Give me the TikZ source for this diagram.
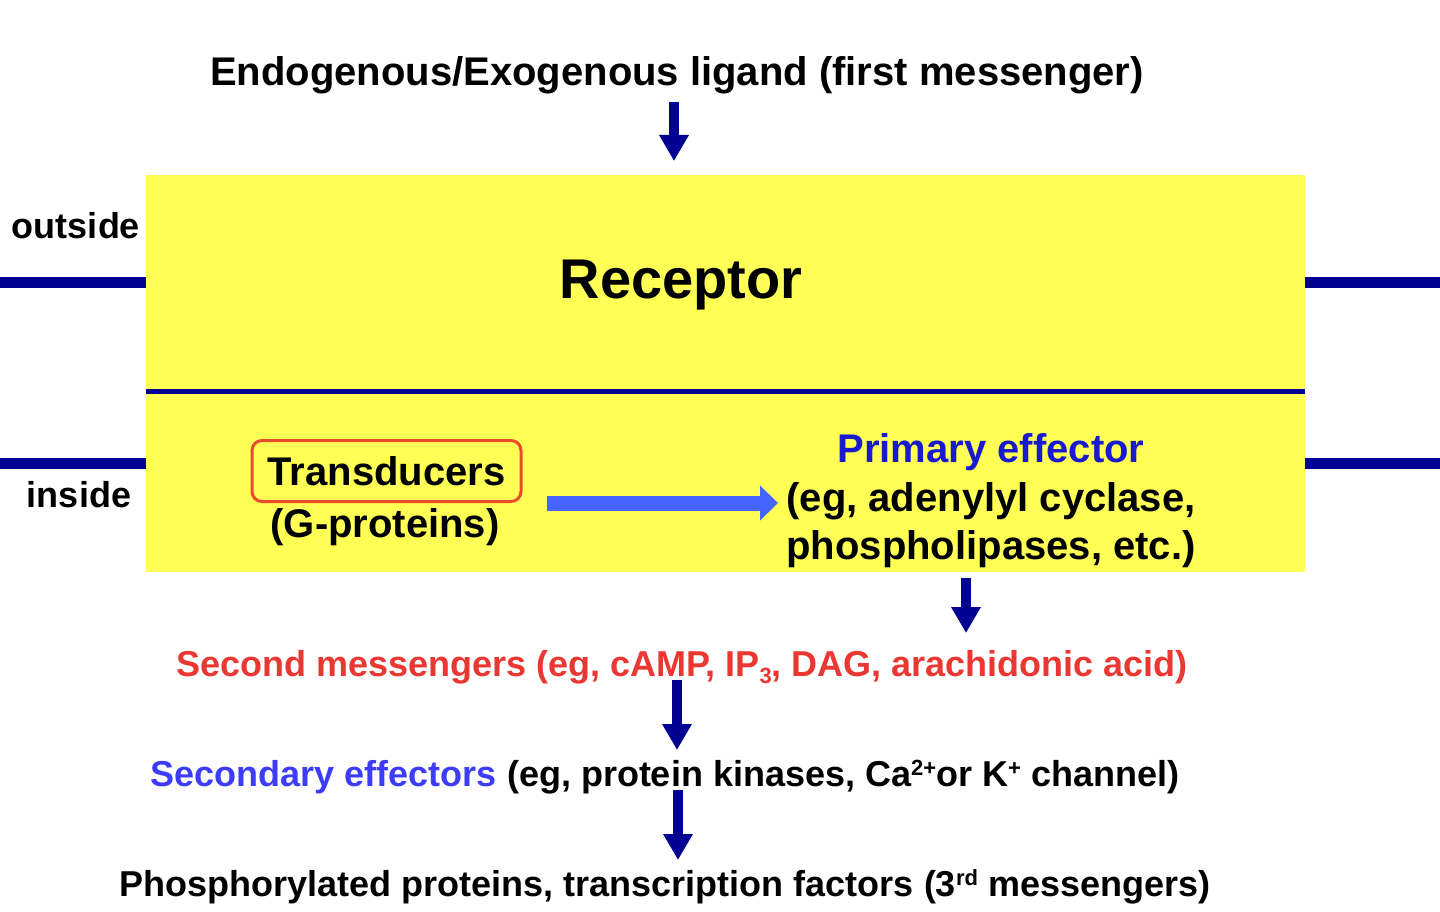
\documentclass[tikz,border=0pt]{standalone}
\usepackage{fontspec}
\setmainfont{Liberation Sans}
\usetikzlibrary{arrows.meta}
\definecolor{navy}{RGB}{0,0,145}
\definecolor{boxyellow}{RGB}{255,255,85}
\definecolor{arrowblue}{RGB}{70,100,255}
\definecolor{redtxt}{RGB}{235,55,50}
\definecolor{redbox}{RGB}{235,75,45}
\definecolor{bluetxt}{RGB}{25,25,205}
\definecolor{bluetxt2}{RGB}{60,60,250}
\newcommand{\smallsup}[1]{\raisebox{0.28em}{\fontsize{22}{24}\selectfont #1}}
\begin{document}
\begin{tikzpicture}[x=1pt,y=-1pt,
  lbl/.style={inner sep=0pt, anchor=base, font=\bfseries\fontsize{36}{44}\selectfont},
  boxtxt/.style={inner sep=0pt, font=\bfseries\fontsize{40}{48.5}\selectfont},
  darr/.style={draw=navy, line width=10pt, -{Triangle[width=28pt,length=26pt]}},
  membrane/.style={draw=navy, line width=11pt},
  innerline/.style={draw=navy, line width=5pt},
  flowarr/.style={draw=arrowblue, line width=15pt, -{Triangle[width=34pt,length=18pt]}},
]
\useasboundingbox (0,0) rectangle (1440,912);
\fill[white] (0,0) rectangle (1440,912);

% receptor box
\node[fill=boxyellow, draw=none, inner sep=0pt, minimum width=1159pt, minimum height=397pt] (rec) at (725.5,373.5) {};

% membrane lines
\coordinate (mLt) at (0,282);
\coordinate (mLb) at (0,463);
\coordinate (mRt) at (1440,282);
\coordinate (mRb) at (1440,463);
\coordinate (midL) at (146,391);
\coordinate (midR) at (1305,391);
\draw[membrane] (mLt) -- (mLt -| rec.west);
\draw[membrane] (mLb) -- (mLb -| rec.west);
\draw[membrane] (mRt) -- (mRt -| rec.east);
\draw[membrane] (mRb) -- (mRb -| rec.east);
\draw[innerline] (midL) -- (midR);

% texts
\node[lbl, font=\bfseries\fontsize{40}{48}\selectfont] (lig) at (677,86) {Endogenous/Exogenous ligand (first messenger)};
\node[lbl] (outside) at (76,239) {outside};
\node[lbl] (inside) at (79,507) {inside};
\node[lbl, font=\bfseries\fontsize{56}{64}\selectfont] (receptor) at (681,298) {Receptor};

\node[boxtxt, draw=redbox, line width=3pt, rounded corners=10pt, minimum width=269pt, minimum height=61pt] (trans) at (386.5,471) {Transducers};
\node[boxtxt, anchor=base] (gprot) at (385,537) {(G-proteins)};

\node[boxtxt, align=center] (peff) at (991,501) {\textcolor{bluetxt}{Primary effector}\\(eg, adenylyl cyclase,\\phospholipases, etc.)};

\node[lbl, text=redtxt] (second) at (682,676) {Second messengers (eg, cAMP, IP\raisebox{-0.2em}{\fontsize{22}{24}\selectfont 3}, DAG, arachidonic acid)};
\node[lbl] (secondary) at (665,786) {\textcolor{bluetxt2}{Secondary effectors} (eg, protein kinases, Ca\smallsup{2+}or K\smallsup{+} channel)};
\node[lbl] (third) at (665,896) {Phosphorylated proteins, transcription factors (3\smallsup{rd} messengers)};

% arrows
\coordinate (a1s) at (674,102);
\coordinate (a1e) at (674,161);
\coordinate (a2s) at (966,578);
\coordinate (a2e) at (966,633);
\coordinate (a3s) at (677,680);
\coordinate (a3e) at (677,750);
\coordinate (a4s) at (678,790);
\coordinate (a4e) at (678,860);
\coordinate (bs) at (547,503);
\coordinate (be) at (778,503);
\draw[darr] (a1s) -- (a1e);
\draw[darr] (a2s) -- (a2e);
\draw[darr] (a3s) -- (a3e);
\draw[darr] (a4s) -- (a4e);
\draw[flowarr] (bs) -- (be);
\end{tikzpicture}
\end{document}
